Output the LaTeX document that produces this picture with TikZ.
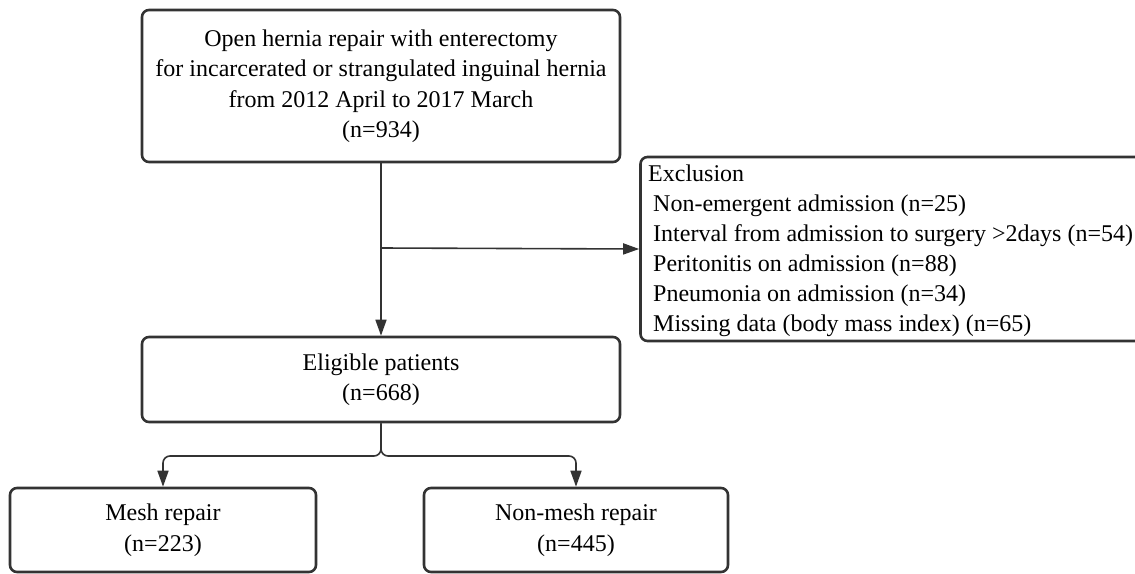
\documentclass[tikz,border=0pt]{standalone}
\usepackage{fontspec}
\setmainfont{Liberation Serif}
\usetikzlibrary{arrows.meta}
\begin{document}
\begin{tikzpicture}[x=1pt,y=-1pt,
  box/.style={draw=lc, line width=2.6pt, rounded corners=7pt, inner sep=0pt,
    align=center, font=\fontsize{24}{30.5}\selectfont, text=black},
  conn/.style={draw=lc, line width=1.6pt, -{Triangle[length=16pt,width=11pt]}}]
\definecolor{lc}{HTML}{333333}
\useasboundingbox (0,0) rectangle (1135,573);
\node[box, minimum width=478pt, minimum height=152pt] (top) at (381,86)
  {Open hernia repair with enterectomy\\for incarcerated or strangulated inguinal hernia\\from 2012 April to 2017 March\\(n=934)};
\node[box, minimum width=478pt, minimum height=85pt] (elig) at (381,379.5)
  {Eligible patients\\(n=668)};
\node[box, minimum width=306pt, minimum height=84pt] (mesh) at (163,530)
  {Mesh repair\\(n=223)};
\node[box, minimum width=304pt, minimum height=84pt] (nonmesh) at (576,530)
  {Non-mesh repair\\(n=445)};
\node[box, minimum width=505pt, minimum height=184pt] (excl) at (893,249) {};
\node[anchor=north west, align=left, inner sep=0pt, font=\fontsize{24}{30}\selectfont] (excltext) at (648,165)
  {Exclusion\\
   \hspace*{5pt}Non-emergent admission (n=25)\\
   \hspace*{5pt}Interval from admission to surgery >2days (n=54)\\
   \hspace*{5pt}Peritonitis on admission (n=88)\\
   \hspace*{5pt}Pneumonia on admission (n=34)\\
   \hspace*{5pt}Missing data (body mass index) (n=65)};
\draw[conn] (top.south) -- (elig.north);
\coordinate (br) at (381,248);
\draw[conn] (br) -- (excl.west);
\coordinate (sp) at (381,456);
\draw[conn, rounded corners=7pt] (elig.south) -- (sp) -| (mesh.north);
\draw[conn, rounded corners=7pt] (elig.south) -- (sp) -| (nonmesh.north);
\end{tikzpicture}
\end{document}
